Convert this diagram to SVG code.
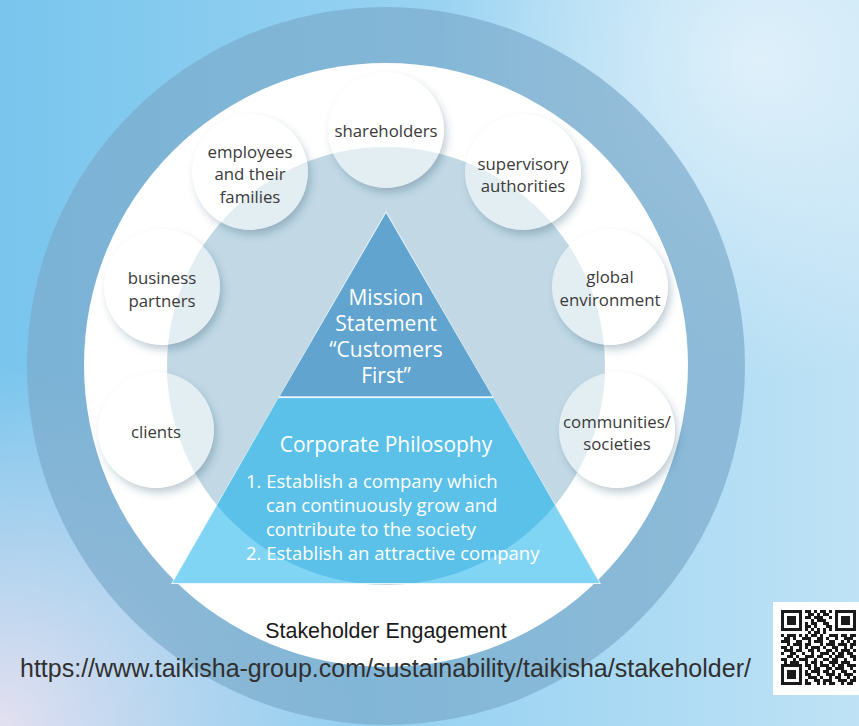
<svg xmlns="http://www.w3.org/2000/svg" width="859" height="726" viewBox="0 0 859 726">
<defs>
<style>
.lbl{font-family:"Open Sans","Noto Sans",sans-serif;font-size:16.8px;fill:#3a3a3a;text-anchor:middle}
.tri{font-family:"Open Sans","Noto Sans",sans-serif;font-size:21px;fill:#ffffff;text-anchor:middle}
.lst{font-family:"Open Sans","Noto Sans",sans-serif;font-size:18.5px;fill:#ffffff}
.node{fill:#ffffff;fill-opacity:0.55}
.shadow{fill:#1d4a66;fill-opacity:0.3}
</style>
<linearGradient id="bg" x1="0" y1="0" x2="1" y2="0">
<stop offset="0" stop-color="#79c5ed"/>
<stop offset="0.45" stop-color="#95d1f1"/>
<stop offset="1" stop-color="#bfe2f5"/>
</linearGradient>
<radialGradient id="hl" cx="760" cy="60" r="320" gradientUnits="userSpaceOnUse">
<stop offset="0" stop-color="#e6f3fb" stop-opacity="0.85"/>
<stop offset="1" stop-color="#e6f3fb" stop-opacity="0"/>
</radialGradient>
<radialGradient id="lav" cx="0" cy="726" r="360" gradientUnits="userSpaceOnUse">
<stop offset="0" stop-color="#e4e0f0" stop-opacity="1"/>
<stop offset="1" stop-color="#e4e0f0" stop-opacity="0"/>
</radialGradient>
<filter id="blur" x="-30%" y="-30%" width="160%" height="160%">
<feGaussianBlur stdDeviation="4"/>
</filter>
<clipPath id="innerClip"><circle cx="386" cy="366" r="219"/></clipPath>
<mask id="holes" maskUnits="userSpaceOnUse" x="0" y="0" width="859" height="726">
<rect x="0" y="0" width="859" height="726" fill="#fff"/>
<circle cx="386" cy="130" r="58" fill="#000"/>
<circle cx="250" cy="172" r="58" fill="#000"/>
<circle cx="523" cy="172" r="58" fill="#000"/>
<circle cx="162" cy="287" r="58" fill="#000"/>
<circle cx="610" cy="287" r="58" fill="#000"/>
<circle cx="156" cy="430" r="58" fill="#000"/>
<circle cx="617" cy="430" r="58" fill="#000"/>
</mask>
</defs>

<g id="background">
<rect x="0" y="0" width="859" height="726" fill="url(#bg)"/>
<rect x="0" y="0" width="859" height="726" fill="url(#hl)"/>
<rect x="0" y="0" width="859" height="726" fill="url(#lav)"/>
</g>

<g id="rings">
<circle cx="386" cy="366" r="359" fill="#7aaaca" fill-opacity="0.68"/>
<circle cx="386" cy="365" r="302" fill="#ffffff"/>
<circle cx="386" cy="366" r="219" fill="#c2d9e5"/>
</g>

<g id="triangle">
<polygon points="386,211 171,584 601,584" fill="#eaf5fb"/>
<polygon points="386,213 279.7,396.3 492.3,396.3" fill="#60a4cf"/>
<polygon points="278.5,398.3 493.5,398.3 599.5,583 172.5,583" fill="#80d5f5"/>
<polygon points="278.5,398.3 493.5,398.3 599.5,583 172.5,583" fill="#5cc1e9" clip-path="url(#innerClip)"/>
<text class="tri" x="386" y="305">Mission</text>
<text class="tri" x="386" y="331">Statement</text>
<text class="tri" x="386" y="357">“Customers</text>
<text class="tri" x="386" y="383">First”</text>
<text class="tri" x="386" y="452">Corporate Philosophy</text>
<text class="lst" x="246" y="488">1. Establish a company which</text>
<text class="lst" x="266" y="512">can continuously grow and</text>
<text class="lst" x="266" y="536">contribute to the society</text>
<text class="lst" x="246" y="560">2. Establish an attractive company</text>
</g>

<g id="connectors"></g>

<g id="n-shareholders">
<circle class="shadow" cx="389" cy="135" r="57" filter="url(#blur)" mask="url(#holes)"/>
<circle class="node" cx="386" cy="130" r="58"/>
<text class="lbl" x="386" y="137">shareholders</text>
</g>
<g id="n-employees">
<circle class="shadow" cx="253" cy="177" r="57" filter="url(#blur)" mask="url(#holes)"/>
<circle class="node" cx="250" cy="172" r="58"/>
<text class="lbl" x="250" y="158">employees</text>
<text class="lbl" x="250" y="180">and their</text>
<text class="lbl" x="250" y="203">families</text>
</g>
<g id="n-supervisory">
<circle class="shadow" cx="526" cy="177" r="57" filter="url(#blur)" mask="url(#holes)"/>
<circle class="node" cx="523" cy="172" r="58"/>
<text class="lbl" x="523" y="170">supervisory</text>
<text class="lbl" x="523" y="192">authorities</text>
</g>
<g id="n-business">
<circle class="shadow" cx="165" cy="292" r="57" filter="url(#blur)" mask="url(#holes)"/>
<circle class="node" cx="162" cy="287" r="58"/>
<text class="lbl" x="162" y="284">business</text>
<text class="lbl" x="162" y="307">partners</text>
</g>
<g id="n-global">
<circle class="shadow" cx="613" cy="292" r="57" filter="url(#blur)" mask="url(#holes)"/>
<circle class="node" cx="610" cy="287" r="58"/>
<text class="lbl" x="610" y="283">global</text>
<text class="lbl" x="610" y="306">environment</text>
</g>
<g id="n-clients">
<circle class="shadow" cx="159" cy="435" r="57" filter="url(#blur)" mask="url(#holes)"/>
<circle class="node" cx="156" cy="430" r="58"/>
<text class="lbl" x="156" y="438">clients</text>
</g>
<g id="n-communities">
<circle class="shadow" cx="620" cy="435" r="57" filter="url(#blur)" mask="url(#holes)"/>
<circle class="node" cx="617" cy="430" r="58"/>
<text class="lbl" x="617" y="428">communities/</text>
<text class="lbl" x="617" y="450">societies</text>
</g>

<g id="captions">
<text x="386" y="638" font-family="'Liberation Sans',Arial,sans-serif" font-size="21.4" fill="#1a1a1a" text-anchor="middle">Stakeholder Engagement</text>
<text x="20" y="677" font-family="'Liberation Sans',Arial,sans-serif" font-size="25" fill="#303030">https://www.taikisha-group.com/sustainability/taikisha/stakeholder/</text>
</g>

<g id="qr">
<rect x="773" y="602" width="86" height="93" fill="#ffffff"/>
<path fill="#1a1a1a" fill-rule="evenodd" d="M781,610h21v21h-21zM784,613h15v15h-15zM787,616h9v9h-9z M835,610h21v21h-21zM838,613h15v15h-15zM841,616h9v9h-9z M781,664h21v21h-21zM784,667h15v15h-15zM787,670h9v9h-9z"/>
<path fill="#1a1a1a" d="M805,610h6v3h-6zM814,610h3v3h-3zM820,610h6v3h-6zM829,610h3v3h-3z
M808,613h6v3h-6zM817,613h3v3h-3zM823,613h6v3h-6z
M805,616h6v3h-6zM814,616h9v3h-9zM829,616h3v3h-3z
M811,619h3v3h-3zM817,619h9v3h-9z
M805,622h3v3h-3zM811,622h6v3h-6zM823,622h6v3h-6z
M805,625h6v3h-6zM814,625h3v3h-3zM826,625h6v3h-6z
M805,628h3v3h-3zM811,628h3v3h-3zM817,628h3v3h-3zM823,628h3v3h-3zM829,628h3v3h-3z
M808,631h3v3h-3zM814,631h6v3h-6zM823,631h3v3h-3z
M781,634h3v3h-3zM787,634h9v3h-9zM799,634h3v3h-3zM805,634h3v3h-3zM811,634h6v3h-6zM820,634h3v3h-3zM829,634h9v3h-9zM841,634h6v3h-6zM850,634h6v3h-6z
M784,637h6v3h-6zM793,637h3v3h-3zM802,637h9v3h-9zM817,637h6v3h-6zM826,637h3v3h-3zM835,637h3v3h-3zM844,637h9v3h-9z
M781,640h9v3h-9zM796,640h6v3h-6zM808,640h3v3h-3zM814,640h9v3h-9zM829,640h6v3h-6zM841,640h3v3h-3zM847,640h3v3h-3zM853,640h3v3h-3z
M787,643h3v3h-3zM793,643h9v3h-9zM805,643h6v3h-6zM820,643h3v3h-3zM826,643h9v3h-9zM838,643h9v3h-9zM850,643h6v3h-6z
M781,646h6v3h-6zM790,646h3v3h-3zM799,646h3v3h-3zM805,646h3v3h-3zM811,646h9v3h-9zM823,646h3v3h-3zM832,646h6v3h-6zM844,646h3v3h-3zM850,646h3v3h-3z
M784,649h9v3h-9zM796,649h6v3h-6zM808,649h6v3h-6zM817,649h3v3h-3zM826,649h6v3h-6zM835,649h3v3h-3zM841,649h9v3h-9zM853,649h3v3h-3z
M781,652h3v3h-3zM790,652h6v3h-6zM802,652h3v3h-3zM811,652h3v3h-3zM820,652h9v3h-9zM832,652h3v3h-3zM838,652h6v3h-6zM847,652h6v3h-6z
M787,655h6v3h-6zM796,655h3v3h-3zM805,655h9v3h-9zM817,655h6v3h-6zM829,655h3v3h-3zM835,655h9v3h-9zM850,655h6v3h-6z
M781,658h6v3h-6zM793,658h3v3h-3zM799,658h9v3h-9zM814,658h3v3h-3zM823,658h6v3h-6zM832,658h6v3h-6zM844,658h3v3h-3zM853,658h3v3h-3z
M784,661h3v3h-3zM790,661h9v3h-9zM805,661h3v3h-3zM811,661h6v3h-6zM820,661h3v3h-3zM829,661h9v3h-9zM841,661h9v3h-9z
M805,664h6v3h-6zM814,664h3v3h-3zM820,664h9v3h-9zM832,664h3v3h-3zM838,664h6v3h-6zM847,664h9v3h-9z
M808,667h3v3h-3zM814,667h6v3h-6zM826,667h6v3h-6zM835,667h9v3h-9zM850,667h3v3h-3z
M805,670h3v3h-3zM811,670h9v3h-9zM823,670h6v3h-6zM832,670h3v3h-3zM841,670h6v3h-6zM853,670h3v3h-3z
M805,673h6v3h-6zM817,673h3v3h-3zM826,673h9v3h-9zM838,673h3v3h-3zM844,673h9v3h-9z
M808,676h9v3h-9zM820,676h3v3h-3zM829,676h3v3h-3zM835,676h6v3h-6zM847,676h3v3h-3zM853,676h3v3h-3z
M805,679h3v3h-3zM814,679h6v3h-6zM823,679h9v3h-9zM838,679h9v3h-9zM850,679h6v3h-6z
M805,682h6v3h-6zM817,682h3v3h-3zM823,682h3v3h-3zM829,682h6v3h-6zM841,682h3v3h-3zM847,682h6v3h-6z"/>
</g>
</svg>
